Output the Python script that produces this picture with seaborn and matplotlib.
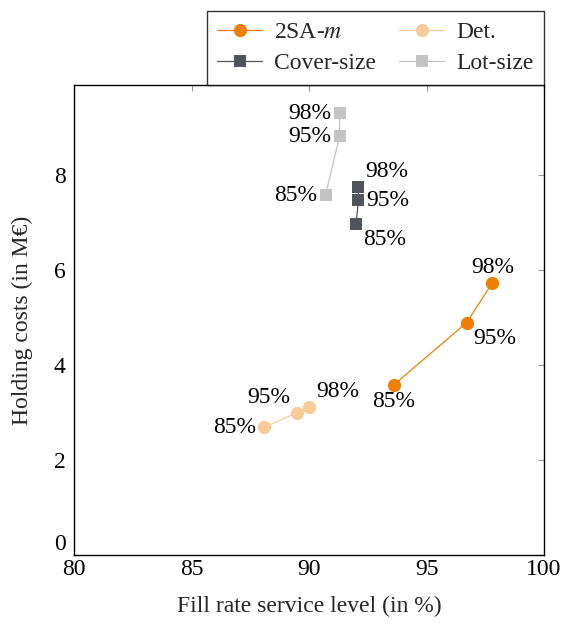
import matplotlib
matplotlib.use("Agg")
import matplotlib.pyplot as plt
import seaborn as sns
import pandas as pd

# ---- data ----
levels = ["85%", "95%", "98%"]
series_names = ["2SA-$m$", "Det.", "Cover-size", "Lot-size"]
fill_rate = {
    "2SA-$m$":    [93.6, 96.7, 97.8],
    "Det.":       [88.1, 89.5, 90.0],
    "Cover-size": [92.0, 92.1, 92.1],
    "Lot-size":   [90.7, 91.3, 91.3],
}
holding = {
    "2SA-$m$":    [3.58, 4.89, 5.73],
    "Det.":       [2.69, 3.00, 3.11],
    "Cover-size": [6.96, 7.47, 7.75],
    "Lot-size":   [7.58, 8.82, 9.30],
}
x_ticks = [80, 85, 90, 95, 100]
y_ticks = [0, 2, 4, 6, 8]

# ---- style ----
colors = {"2SA-$m$": "#EE7F00", "Det.": "#F8CA98", "Cover-size": "#50555B", "Lot-size": "#C3C3C3"}
markers = {"2SA-$m$": "o", "Det.": "o", "Cover-size": "s", "Lot-size": "s"}
msizes = {"2SA-$m$": 9.5, "Det.": 9.5, "Cover-size": 8.5, "Lot-size": 8.5}
placements = {
    "2SA-$m$":    ["below", "below right", "above"],
    "Det.":       ["left", "above left", "above right"],
    "Cover-size": ["below right", "right", "above right"],
    "Lot-size":   ["left", "left", "left"],
}
place_cfg = {
    "below":       ((0, -6), "center", "top"),
    "above":       ((0, 5), "center", "bottom"),
    "left":        ((-8, 0), "right", "center"),
    "right":       ((8, 0), "left", "center"),
    "below right": ((7, -5), "left", "top"),
    "above right": ((7, 5), "left", "bottom"),
    "above left":  ((-7, 5), "right", "bottom"),
}
FS = 17

sns.set_theme(style="white")
plt.rcParams["font.family"] = ["Liberation Serif", "DejaVu Serif"]
plt.rcParams["mathtext.fontset"] = "stix"
plt.rcParams["font.size"] = FS

fig = plt.figure(figsize=(5.65, 6.24), dpi=100)
ax = fig.add_axes([0.131, 0.1106, 0.832, 0.7534])

for name in series_names:
    df = pd.DataFrame({"x": fill_rate[name], "y": holding[name]})
    sns.lineplot(data=df, x="x", y="y", ax=ax, sort=False, estimator=None,
                 color=colors[name], marker=markers[name], markersize=msizes[name],
                 markeredgewidth=0, linewidth=0.9, label=name)
    for xv, yv, lab, pl in zip(fill_rate[name], holding[name], levels, placements[name]):
        off, ha, va = place_cfg[pl]
        ax.annotate(lab, (xv, yv), xytext=off, textcoords="offset pixels",
                    ha=ha, va=va, fontsize=FS, color="black")

ax.set_xlim(80, 100)
ax.set_ylim(0, 9.9)
ax.set_xticks(x_ticks)
ax.set_yticks(y_ticks)
ax.set_xlabel("Fill rate service level (in %)", fontsize=FS, labelpad=11)
ax.set_ylabel("Holding costs (in M€)", fontsize=FS, labelpad=15)
ax.tick_params(direction="in", length=4.5, width=0.8, color="#999999",
               top=True, right=True, labelsize=FS, labelcolor="black")
ax.tick_params(axis="x", pad=3)
ax.tick_params(axis="y", pad=6)
for sp in ax.spines.values():
    sp.set_color("black")
    sp.set_linewidth(1.0)
# lift the "0" label slightly, as in the reference
ax.yaxis.get_major_ticks()[0].label1.set_va("bottom")

handles, labels = ax.get_legend_handles_labels()
order = [0, 2, 1, 3]
leg = ax.legend([handles[i] for i in order], [labels[i] for i in order],
                loc="lower right", bbox_to_anchor=(1.0, 1.0), ncol=2,
                borderaxespad=0.0, frameon=True, fancybox=False, fontsize=FS,
                handlelength=1.9, columnspacing=1.0, handletextpad=0.5,
                borderpad=0.45, labelspacing=0.4)
leg.get_frame().set_edgecolor("black")
leg.get_frame().set_linewidth(1.0)

fig.savefig("out.png", dpi=100)
